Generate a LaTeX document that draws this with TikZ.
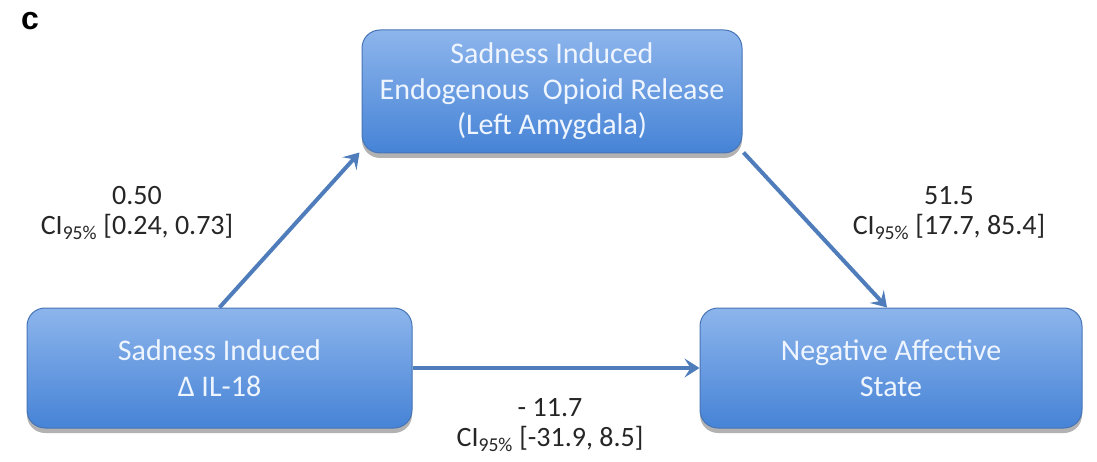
\documentclass[tikz,border=0pt]{standalone}
\usepackage{fontspec}
\setmainfont{Carlito}
\newfontfamily\labelfont{Liberation Sans}
\usetikzlibrary{arrows.meta,shadows}
\definecolor{boxtop}{HTML}{8DB5EC}
\definecolor{boxbot}{HTML}{4683D6}
\definecolor{boxline}{HTML}{4674B6}
\definecolor{arrowc}{HTML}{4F7CBA}
\definecolor{boxtext}{HTML}{EEF5FF}
\begin{document}
\begin{tikzpicture}[x=1pt,y=-1pt,
  box/.style={rectangle, rounded corners=18pt, top color=boxtop, bottom color=boxbot,
    draw=boxline, line width=1pt,
    drop shadow={shadow xshift=0pt, shadow yshift=-5pt, fill=black, opacity=0.3},
    text=boxtext, align=center, font=\fontsize{30}{35.5}\selectfont, inner sep=0pt},
  conn/.style={draw=arrowc, line width=4pt, -{Stealth[length=15pt,width=19pt,inset=6pt]}},
  lab/.style={font=\fontsize{28}{30.5}\selectfont, text=black!85, inner sep=0pt, align=center}]
\useasboundingbox (0,0) rectangle (1097,462);
\node[font=\labelfont\bfseries\fontsize{32}{32}\selectfont, inner sep=0pt] (tag) at (30,21) {c};
\node[box, minimum width=380pt, minimum height=123pt] (T) at (552,91.5)
  {Sadness Induced\\Endogenous\ \ Opioid Release\\(Left Amygdala)};
\node[box, minimum width=385pt, minimum height=120pt] (L) at (219.5,368)
  {Sadness Induced\\Δ IL-18};
\node[box, minimum width=382pt, minimum height=120pt] (R) at (891,368)
  {Negative Affective\\State};
\draw[conn] (L.north) -- ([xshift=-2pt,yshift=1pt]T.south west);
\draw[conn] ([xshift=1pt,yshift=1pt]T.south east) -- ([xshift=-4pt]R.north);
\draw[conn] (L.east) -- (R.west);
\node[lab] (a) at (137,213) {0.50\\CI\textsubscript{95\%} [0.24, 0.73]};
\node[lab] (b) at (949,213) {51.5\\CI\textsubscript{95\%} [17.7, 85.4]};
\node[lab] (c) at (550,425) {- 11.7\\CI\textsubscript{95\%} [-31.9, 8.5]};
\end{tikzpicture}
\end{document}
